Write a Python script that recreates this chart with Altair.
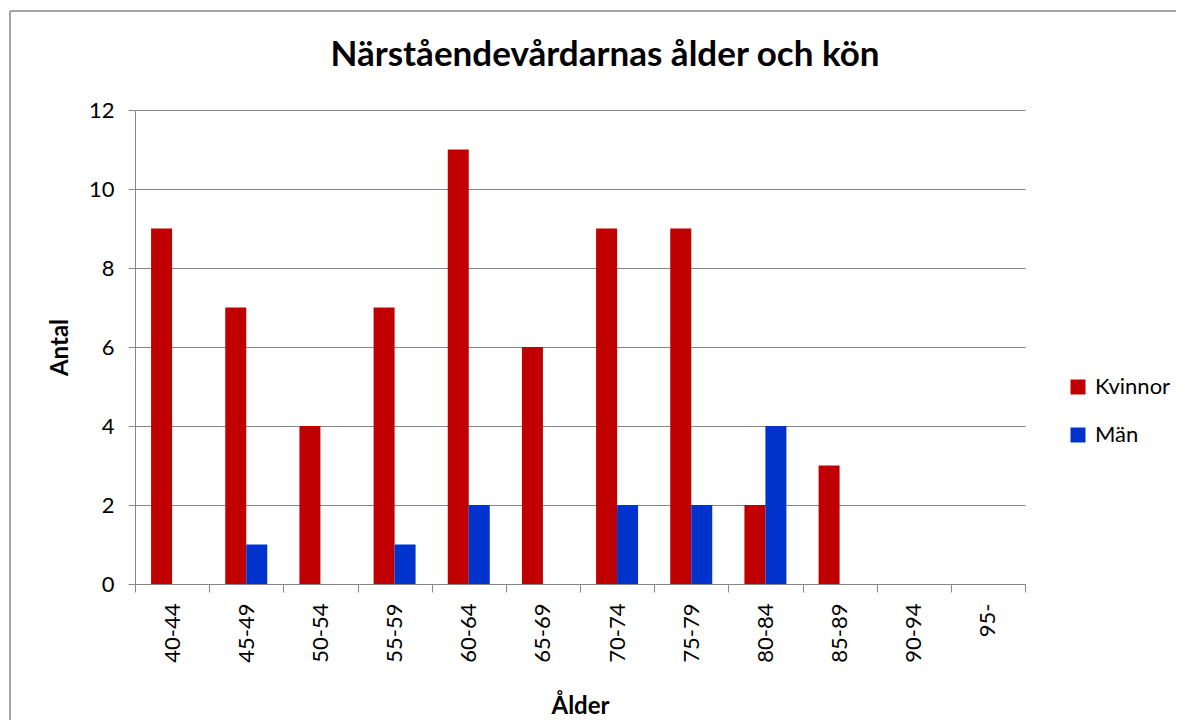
import altair as alt
import pandas as pd

categories = ["40-44", "45-49", "50-54", "55-59", "60-64", "65-69",
              "70-74", "75-79", "80-84", "85-89", "90-94", "95-"]
kvinnor = [9, 7, 4, 7, 11, 6, 9, 9, 2, 3, 0, 0]
man = [0, 1, 0, 1, 2, 0, 2, 2, 4, 0, 0, 0]
series = ["Kvinnor", "Män"]
colors = ["#C00000", "#0033CC"]
y_ticks = [0, 2, 4, 6, 8, 10, 12]

rows = []
for c, k, m in zip(categories, kvinnor, man):
    rows.append({"alder": c, "kon": "Kvinnor", "antal": k})
    rows.append({"alder": c, "kon": "Män", "antal": m})
df = pd.DataFrame(rows)

FONT = "Lato"
GRAY = "#878787"

one = pd.DataFrame({"v": [0]})
border_top = alt.Chart(one).mark_rule(color=GRAY, strokeWidth=1.5).encode(
    x=alt.value(-125), x2=alt.value(1100), y=alt.value(-99)
)
border_left = alt.Chart(one).mark_rule(color=GRAY, strokeWidth=1.5).encode(
    x=alt.value(-125), y=alt.value(-99), y2=alt.value(700)
)

bars = alt.Chart(df).mark_bar().encode(
    x=alt.X("alder:N", sort=categories,
            scale=alt.Scale(paddingInner=0, paddingOuter=0),
            axis=alt.Axis(title="Ålder", labelAngle=-90, labelAlign="right",
                          labelBaseline="middle", tickBand="extent",
                          labelPadding=11, titleX=445, titleY=122,
                          titleBaseline="middle", titleAlign="center")),
    xOffset=alt.XOffset("kon:N", sort=series,
                        scale=alt.Scale(paddingInner=0, paddingOuter=0.766)),
    y=alt.Y("antal:Q", scale=alt.Scale(domain=[0, 12]),
            axis=alt.Axis(values=y_ticks, title="Antal", grid=True,
                          titleX=-75, titleY=237, titleBaseline="middle",
                          titleAlign="center", labelPadding=14, tickSize=7)),
    color=alt.Color("kon:N", sort=series,
                    scale=alt.Scale(domain=series, range=colors),
                    legend=alt.Legend(title=None, orient="none", legendX=932,
                                      legendY=266, symbolType="square",
                                      symbolSize=225, symbolStrokeWidth=0,
                                      labelFontSize=22, labelFont=FONT,
                                      labelColor="black", rowPadding=26,
                                      labelOffset=6))
)

chart = alt.layer(border_top, border_left, bars).properties(
    width=890, height=474,
    autosize=alt.AutoSizeParams(type="none"),
    padding={"left": 127, "top": 102, "right": 151, "bottom": 136},
    title=alt.TitleParams("Närståendevårdarnas ålder och kön", fontSize=35,
                          font=FONT, fontWeight="bold", anchor="middle",
                          baseline="alphabetic", dx=25, dy=91, offset=0,
                          color="black")
).configure_view(stroke="transparent").configure_axis(
    domainColor=GRAY, tickColor=GRAY, gridColor=GRAY, labelColor="black",
    labelFont=FONT, labelFontSize=22, titleFont=FONT, titleFontSize=24,
    titleFontWeight="bold", titleColor="black", tickSize=8, domainWidth=1,
    gridWidth=1
).configure_axisX(grid=False)

chart.save("out.html", embed_options={"renderer": "svg", "actions": False})
